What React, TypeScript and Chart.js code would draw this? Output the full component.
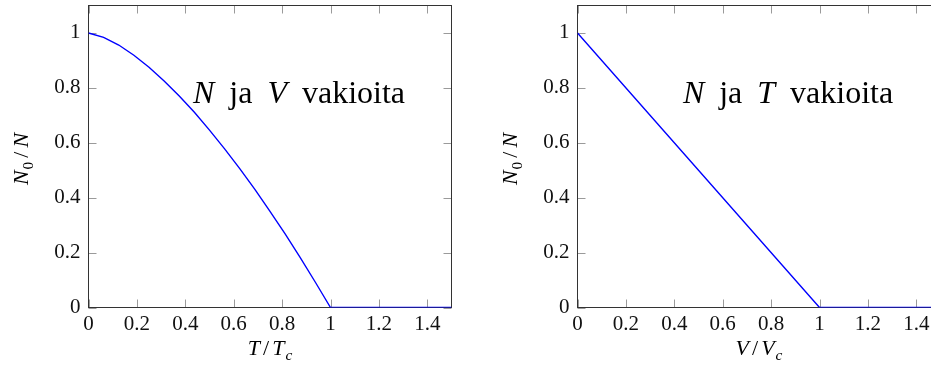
import React, { useEffect, useRef } from "react";
import { Chart, registerables } from "chart.js";

Chart.register(...registerables);

// Condensate fraction N0/N against T/Tc (N and V held constant)
const tempRatio = [
  0, 0.0625, 0.125, 0.1875, 0.25, 0.3125, 0.375, 0.4375, 0.5, 0.5625, 0.625, 0.6875, 0.75,
  0.8125, 0.875, 0.9375, 1, 1.0625, 1.125, 1.1875, 1.25, 1.3125, 1.375, 1.4375, 1.5,
];
const fractionVsTemp = [
  1, 0.984, 0.956, 0.919, 0.875, 0.825, 0.77, 0.711, 0.646, 0.578, 0.506, 0.43, 0.35, 0.268,
  0.182, 0.092, 0, 0, 0, 0, 0, 0, 0, 0, 0,
];

// Condensate fraction N0/N against V/Vc (N and T held constant)
const volumeRatio = [0, 1, 1.5];
const fractionVsVolume = [1, 0, 0];

const xTickValues = [0, 0.2, 0.4, 0.6, 0.8, 1, 1.2, 1.4];
const xTickLabels = ["0", "0.2", "0.4", "0.6", "0.8", "1", "1.2", "1.4"];
const yTickValues = [0, 0.2, 0.4, 0.6, 0.8, 1];
const yTickLabels = ["0", "0.2", "0.4", "0.6", "0.8", "1"];

const X_MIN = 0;
const X_MAX = 1.5;
const Y_MIN = 0;
const Y_MAX = 1.1;

type Run = { text: string; italic?: boolean; sub?: boolean };

const SERIF = '"Liberation Serif", "Times New Roman", serif';

function runFont(r: Run, size: number) {
  const s = r.sub ? size * 0.7 : size;
  return `${r.italic ? "italic " : ""}${s}px ${SERIF}`;
}

function gapAfter(runs: Run[], i: number, gap: number) {
  if (i >= runs.length - 1) return 0;
  return runs[i + 1].sub ? 1 : gap;
}

function runsWidth(ctx: CanvasRenderingContext2D, runs: Run[], size: number, gap: number) {
  let w = 0;
  runs.forEach((r, i) => {
    ctx.font = runFont(r, size);
    w += ctx.measureText(r.text).width + gapAfter(runs, i, gap);
  });
  return w;
}

function drawRuns(
  ctx: CanvasRenderingContext2D,
  runs: Run[],
  size: number,
  gap: number,
  cx: number,
  baseline: number
) {
  const total = runsWidth(ctx, runs, size, gap);
  let x = cx - total / 2;
  ctx.textAlign = "left";
  ctx.textBaseline = "alphabetic";
  ctx.fillStyle = "#000";
  runs.forEach((r, i) => {
    ctx.font = runFont(r, size);
    ctx.fillText(r.text, x, baseline + (r.sub ? size * 0.22 : 0));
    x += ctx.measureText(r.text).width + gapAfter(runs, i, gap);
  });
}

type PanelProps = {
  xs: number[];
  ys: number[];
  xLabel: Run[];
  note: Run[];
};

const yLabel: Run[] = [
  { text: "N", italic: true },
  { text: "0", sub: true },
  { text: "/" },
  { text: "N", italic: true },
];

const NOTE_X = 0.87;
const NOTE_Y = 0.745;

function Panel({ xs, ys, xLabel, note }: PanelProps) {
  const ref = useRef<HTMLCanvasElement | null>(null);

  useEffect(() => {
    const canvas = ref.current;
    if (!canvas) return;

    const framePlugin = {
      id: "frame",
      beforeDatasetsDraw(chart: any) {
        const { ctx, chartArea } = chart;
        const { left, right, top, bottom } = chartArea;
        const xs = chart.scales.x;
        const ys = chart.scales.y;
        const tl = 8;
        ctx.save();
        ctx.lineWidth = 1;
        ctx.strokeStyle = "#9a9a9a";
        ctx.beginPath();
        xTickValues.forEach((v) => {
          const px = Math.round(xs.getPixelForValue(v)) + 0.5;
          ctx.moveTo(px, bottom);
          ctx.lineTo(px, bottom - tl);
          ctx.moveTo(px, top);
          ctx.lineTo(px, top + tl);
        });
        yTickValues.forEach((v) => {
          const py = Math.round(ys.getPixelForValue(v)) + 0.5;
          ctx.moveTo(left, py);
          ctx.lineTo(left + tl, py);
          ctx.moveTo(right, py);
          ctx.lineTo(right - tl, py);
        });
        ctx.stroke();
        ctx.strokeStyle = "#333";
        ctx.strokeRect(left, top, right - left, bottom - top);
        ctx.restore();
      },
      afterDatasetsDraw(chart: any) {
        const { ctx, chartArea } = chart;
        const { left, right, top, bottom } = chartArea;
        ctx.save();
        // annotation inside the axes
        drawRuns(
          ctx,
          note,
          32,
          15,
          chart.scales.x.getPixelForValue(NOTE_X),
          chart.scales.y.getPixelForValue(NOTE_Y)
        );
        // x-axis title
        drawRuns(ctx, xLabel, 22, 3, (left + right) / 2, bottom + 47.5);
        // y-axis title, rotated
        ctx.translate(left - 60.5, (top + bottom) / 2 + 2.5);
        ctx.rotate(-Math.PI / 2);
        drawRuns(ctx, yLabel, 22, 4, 0, 0);
        ctx.restore();
      },
    };

    const tickFont = { family: SERIF, size: 21 };

    const chart = new Chart(canvas, {
      type: "line",
      data: {
        datasets: [
          {
            data: xs.map((x, i) => ({ x, y: ys[i] })),
            borderColor: "#0000ff",
            borderWidth: 1.4,
            pointRadius: 0,
            tension: 0,
            fill: false,
          },
        ],
      },
      options: {
        animation: false,
        responsive: false,
        maintainAspectRatio: false,
        devicePixelRatio: 1,
        events: [],
        layout: { padding: { top: 5.5, right: 37.5, left: 0, bottom: 0 } },
        plugins: { legend: { display: false }, tooltip: { enabled: false } },
        scales: {
          x: {
            type: "linear",
            min: X_MIN,
            max: X_MAX,
            grid: { display: false, drawTicks: false, tickLength: 0 },
            border: { display: false },
            afterBuildTicks: (s: any) => {
              s.ticks = xTickValues.map((value) => ({ value }));
            },
            afterFit: (s: any) => {
              s.height = 59.5;
              s.paddingLeft = 0;
              s.paddingRight = 0;
            },
            ticks: {
              autoSkip: false,
              maxRotation: 0,
              padding: 4,
              color: "#111",
              font: tickFont,
              callback: (_v: any, i: number) => xTickLabels[i],
            },
          },
          y: {
            type: "linear",
            min: Y_MIN,
            max: Y_MAX,
            grid: { display: false, drawTicks: false, tickLength: 0 },
            border: { display: false },
            afterBuildTicks: (s: any) => {
              s.ticks = yTickValues.map((value) => ({ value }));
            },
            afterFit: (s: any) => {
              s.width = 88.5;
              s.paddingTop = 0;
              s.paddingBottom = 0;
            },
            ticks: {
              autoSkip: false,
              padding: 8,
              color: "#111",
              font: tickFont,
              callback: (_v: any, i: number) => yTickLabels[i],
            },
          },
        },
      } as any,
      plugins: [framePlugin],
    });

    return () => chart.destroy();
  }, [xs, ys, xLabel, note]);

  return <canvas ref={ref} width={489} height={367} style={{ width: 489, height: 367, display: "block" }} />;
}

const tempLabel: Run[] = [
  { text: "T", italic: true },
  { text: "/" },
  { text: "T", italic: true },
  { text: "c", italic: true, sub: true },
];
const volLabel: Run[] = [
  { text: "V", italic: true },
  { text: "/" },
  { text: "V", italic: true },
  { text: "c", italic: true, sub: true },
];
const tempNote: Run[] = [
  { text: "N", italic: true },
  { text: "ja" },
  { text: "V", italic: true },
  { text: "vakioita" },
];
const volNote: Run[] = [
  { text: "N", italic: true },
  { text: "ja" },
  { text: "T", italic: true },
  { text: "vakioita" },
];

export default function App() {
  return (
    <div
      style={{
        position: "fixed",
        left: 0,
        top: 0,
        width: 931,
        height: 367,
        overflow: "hidden",
        background: "#fff",
      }}
    >
      <div style={{ position: "absolute", left: 0, top: 0 }}>
        <Panel xs={tempRatio} ys={fractionVsTemp} xLabel={tempLabel} note={tempNote} />
      </div>
      <div style={{ position: "absolute", left: 489, top: 0 }}>
        <Panel xs={volumeRatio} ys={fractionVsVolume} xLabel={volLabel} note={volNote} />
      </div>
    </div>
  );
}
